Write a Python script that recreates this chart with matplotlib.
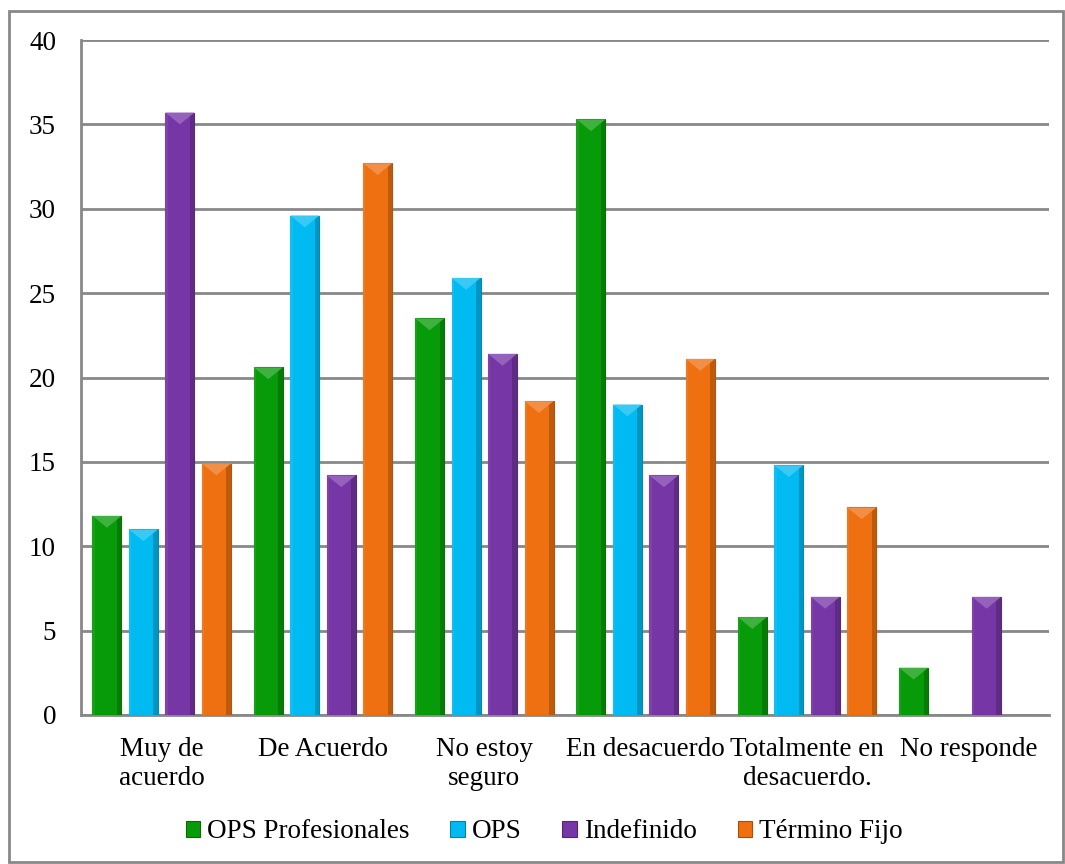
import matplotlib
matplotlib.use("Agg")
import matplotlib.pyplot as plt
import numpy as np
from matplotlib.patches import Rectangle, Polygon, Patch
from matplotlib.colors import to_rgb

plt.rcParams['font.family'] = ['Liberation Serif', 'DejaVu Serif']

categories = ["Muy de\nacuerdo", "De Acuerdo", "No estoy\nseguro",
              "En desacuerdo", "Totalmente en\ndesacuerdo.", "No responde"]
series_names = ["OPS Profesionales", "OPS", "Indefinido", "Término Fijo"]
ops_profesionales = [11.8, 20.6, 23.5, 35.3, 5.8, 2.8]
ops = [11.0, 29.6, 25.9, 18.4, 14.8, 0.0]
indefinido = [35.7, 14.2, 21.4, 14.2, 7.0, 7.0]
termino_fijo = [14.9, 32.7, 18.6, 21.1, 12.3, 0.0]
y_ticks = [0, 5, 10, 15, 20, 25, 30, 35, 40]

series = [ops_profesionales, ops, indefinido, termino_fijo]
colors = ["#079B09", "#00BAF2", "#7636A6", "#EE7011"]


def shade(c, f):
    r, g, b = to_rgb(c)
    if f < 1:
        return (r * f, g * f, b * f)
    f = f - 1
    return (r + (1 - r) * f, g + (1 - g) * f, b + (1 - b) * f)


W, H = 1065, 864
fig = plt.figure(figsize=(W / 100, H / 100), dpi=100)
ax = fig.add_axes([81 / W, 1 - 715 / H, (1049 - 81) / W, (715 - 40) / H])

x = np.arange(len(categories))
pitch = 0.226
width = 0.18
fs = 19.5

for i, (vals, col) in enumerate(zip(series, colors)):
    offs = (i - 1.5) * pitch
    bars = ax.bar(x + offs, vals, width, color=col, zorder=3,
                  edgecolor=shade(col, 0.75), linewidth=0.8)
    # bevel shading on each bar
    for b, v in zip(bars, vals):
        if v <= 0:
            continue
        x0 = b.get_x()
        w = b.get_width()
        ax.add_patch(Rectangle((x0 + w * 0.84, 0), w * 0.16, v,
                               facecolor=shade(col, 0.8), edgecolor='none', zorder=4))
        ax.add_patch(Rectangle((x0, 0), w * 0.08, v,
                               facecolor=shade(col, 1.06), edgecolor='none', zorder=4))
        cap = min(v, 0.7)
        ax.add_patch(Polygon([(x0, v), (x0 + w, v), (x0 + w / 2, v - cap)],
                             closed=True, facecolor=shade(col, 1.22),
                             edgecolor='none', zorder=5))

ax.set_xlim(-0.5, len(categories) - 0.5)
ax.set_ylim(0, 40)
ax.set_yticks(y_ticks)
ax.set_yticklabels([str(t) for t in y_ticks], fontsize=fs)
ax.set_xticks(x)
ax.set_xticklabels(categories, fontsize=fs, linespacing=1.2)
ax.tick_params(axis='y', length=0, pad=18)
ax.tick_params(axis='x', length=0, pad=16)
ax.yaxis.grid(True, color='#888888', linewidth=2.0, zorder=0)
ax.set_axisbelow(True)
for side in ['top', 'right']:
    ax.spines[side].set_visible(False)
for side in ['left', 'bottom']:
    ax.spines[side].set_color('#888888')
    ax.spines[side].set_linewidth(2.0)

handles = [Patch(facecolor=c, edgecolor=shade(c, 0.7), linewidth=0.8) for c in colors]
fig.legend(handles, series_names, loc='center', bbox_to_anchor=(0.511, 1 - 832 / H),
           ncol=4, frameon=False, fontsize=fs, handlelength=0.55, handleheight=0.55,
           handletextpad=0.25, columnspacing=1.5)

# outer chart frame
fig.patches.append(Rectangle((8.5 / W, 1 - 862 / H), (1063 - 8.5) / W, (862 - 10.5) / H,
                             transform=fig.transFigure, fill=False,
                             edgecolor='#888888', linewidth=2.0))

fig.savefig("out.png", dpi=100)
